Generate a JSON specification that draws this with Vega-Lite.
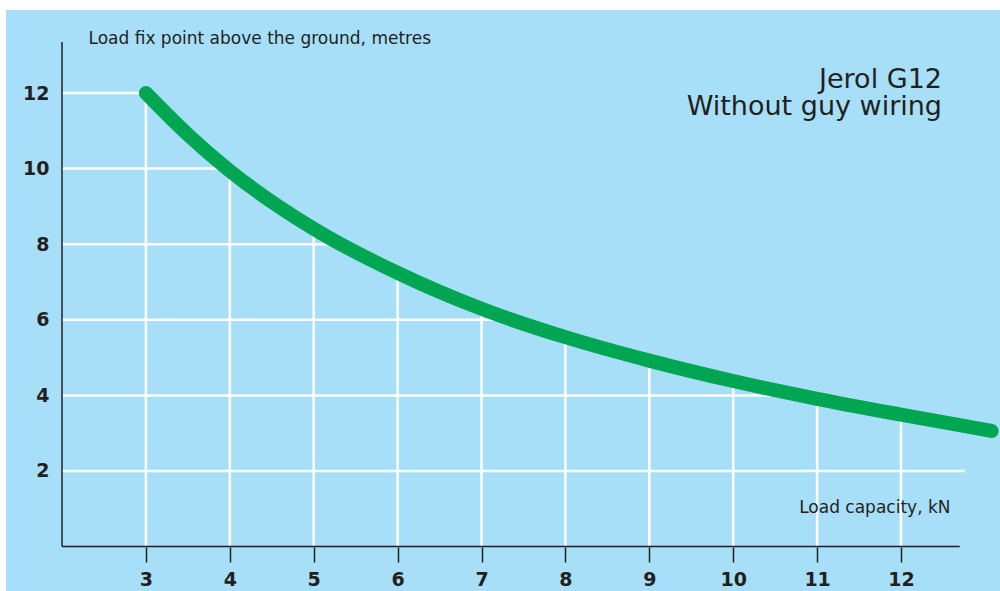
{
  "$schema": "https://vega.github.io/schema/vega-lite/v6.json",
  "width": 994,
  "height": 581,
  "autosize": "none",
  "padding": {"left": 6, "top": 10, "right": 0, "bottom": 0},
  "background": "white",
  "title": {
    "text": ["Jerol G12", "Without guy wiring"],
    "orient": "top",
    "anchor": "end",
    "frame": "group",
    "align": "right",
    "baseline": "top",
    "offset": -111,
    "dx": -58,
    "font": "DejaVu Sans",
    "fontSize": 27,
    "fontWeight": "normal",
    "lineHeight": 27,
    "color": "#231f20"
  },
  "datasets": {
    "curve": [
      {"x": 3, "y": 12},
      {"x": 3.5, "y": 10.9},
      {"x": 4, "y": 9.94},
      {"x": 5, "y": 8.41},
      {"x": 6, "y": 7.24},
      {"x": 7, "y": 6.29},
      {"x": 8, "y": 5.54},
      {"x": 9, "y": 4.92},
      {"x": 10, "y": 4.38},
      {"x": 11, "y": 3.91},
      {"x": 12, "y": 3.49},
      {"x": 13.08, "y": 3.06}
    ],
    "grid": [
      {"x": 2, "x2": 3, "y": 12, "y2": 12},
      {"x": 2, "x2": 3.97, "y": 10, "y2": 10},
      {"x": 2, "x2": 5.33, "y": 8, "y2": 8},
      {"x": 2, "x2": 7.36, "y": 6, "y2": 6},
      {"x": 2, "x2": 10.75, "y": 4, "y2": 4},
      {"x": 2, "x2": 12.76, "y": 2, "y2": 2},
      {"x": 3, "x2": 3, "y": 0, "y2": 12},
      {"x": 4, "x2": 4, "y": 0, "y2": 9.94},
      {"x": 5, "x2": 5, "y": 0, "y2": 8.41},
      {"x": 6, "x2": 6, "y": 0, "y2": 7.24},
      {"x": 7, "x2": 7, "y": 0, "y2": 6.29},
      {"x": 8, "x2": 8, "y": 0, "y2": 5.54},
      {"x": 9, "x2": 9, "y": 0, "y2": 4.92},
      {"x": 10, "x2": 10, "y": 0, "y2": 4.38},
      {"x": 11, "x2": 11, "y": 0, "y2": 3.91},
      {"x": 12, "x2": 12, "y": 0, "y2": 3.49}
    ],
    "axislines": [
      {"x": 2, "x2": 2, "y": 0, "y2": 13.35},
      {"x": 2, "x2": 12.7, "y": 0, "y2": 0}
    ]
  },
  "encoding": {
    "x": {
      "field": "x", "type": "quantitative",
      "scale": {"domain": [1.3325, 13.18], "nice": false, "zero": false},
      "axis": {
        "orient": "bottom",
        "offset": -44,
        "zindex": 1,
        "values": [3, 4, 5, 6, 7, 8, 9, 10, 11, 12],
        "domain": false,
        "grid": false,
        "ticks": true,
        "tickSize": 15,
        "tickWidth": 1.5,
        "tickColor": "#231f20",
        "labelFont": "DejaVu Sans",
        "labelFontWeight": "bold",
        "labelFontSize": 19,
        "labelColor": "#231f20",
        "labelPadding": 8,
        "labelFlush": false,
        "labelOverlap": false,
        "title": "Load capacity, kN",
        "titleFont": "DejaVu Sans",
        "titleFontSize": 17,
        "titleFontWeight": "normal",
        "titleColor": "#231f20",
        "titleX": 944,
        "titleY": -35,
        "titleAlign": "right",
        "titleAnchor": null,
        "titleBaseline": "alphabetic"
      }
    },
    "y": {
      "field": "y", "type": "quantitative",
      "scale": {"domain": [-1.175, 14.196], "nice": false, "zero": false},
      "axis": {
        "orient": "left",
        "offset": -56,
        "zindex": 1,
        "values": [2, 4, 6, 8, 10, 12],
        "domain": false,
        "grid": false,
        "ticks": false,
        "labelFont": "DejaVu Sans",
        "labelFontWeight": "bold",
        "labelFontSize": 19,
        "labelColor": "#231f20",
        "labelPadding": 13,
        "labelFlush": false,
        "labelOverlap": false,
        "title": "Load fix point above the ground, metres",
        "titleFont": "DejaVu Sans",
        "titleFontSize": 17,
        "titleFontWeight": "normal",
        "titleColor": "#231f20",
        "titleAngle": 0,
        "titleX": 26,
        "titleY": 33.5,
        "titleAlign": "left",
        "titleAnchor": null,
        "titleBaseline": "alphabetic"
      }
    }
  },
  "layer": [
    {
      "data": {"name": "grid"},
      "mark": {"type": "rule", "color": "white", "strokeWidth": 2.5},
      "encoding": {
        "x2": {"field": "x2"},
        "y2": {"field": "y2"}
      }
    },
    {
      "data": {"name": "axislines"},
      "mark": {"type": "rule", "color": "#231f20", "strokeWidth": 1.5},
      "encoding": {
        "x2": {"field": "x2"},
        "y2": {"field": "y2"}
      }
    },
    {
      "data": {"name": "curve"},
      "mark": {"type": "line", "color": "#00a651", "strokeWidth": 14, "strokeCap": "round", "strokeJoin": "round", "interpolate": "monotone", "clip": false}
    }
  ],
  "config": {
    "view": {"stroke": null, "fill": "#a7dff8"}
  }
}
